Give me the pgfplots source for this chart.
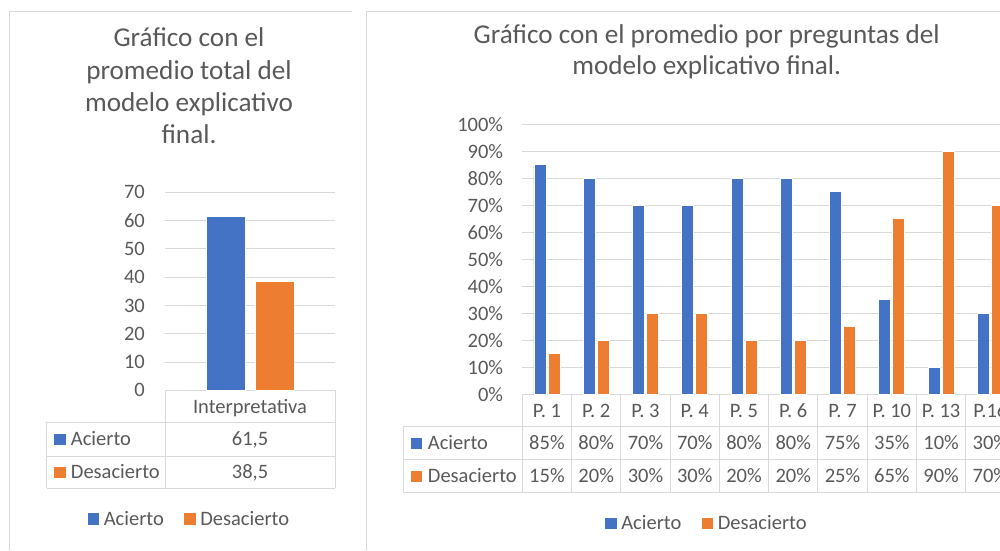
\documentclass[border=0pt]{standalone}
\usepackage{pgfplots}
\pgfplotsset{compat=1.18}
\usepackage{fontspec}
\setmainfont{Carlito}
\definecolor{cblue}{HTML}{4472C4}
\definecolor{corange}{HTML}{ED7D31}
\definecolor{ctext}{HTML}{595959}
\definecolor{cgrid}{HTML}{D9D9D9}
\newcommand{\fs}{\fontsize{20.5}{24}\selectfont}
\newcommand{\ft}{\fontsize{27.2}{32}\selectfont}
\pgfplotsset{
  sqleg/.style={legend image code/.code={\fill[##1, draw=none] (0pt,-5.6pt) rectangle (11.3pt,5.6pt);}},
  common/.style={
    scale only axis, anchor=south west,
    axis line style={draw=none}, major tick length=0pt,
    ymajorgrids, grid style={cgrid, line width=0.9pt},
    tick label style={font=\fs, text=ctext, inner sep=0pt},
    /pgf/number format/assume math mode=true,
    clip=false,
    legend style={draw=none, fill=none, font=\fs, text=ctext, inner sep=0pt,
      nodes={inner sep=0pt}, anchor=center,
      /tikz/every odd column/.append style={column sep=4.7pt},
      /tikz/every even column/.append style={column sep=20.4pt}},
    legend columns=2,
  },
}
\begin{document}
\begin{tikzpicture}[x=1pt,y=1pt]
\useasboundingbox (0,0) rectangle (1000,550);
\clip (0,0) rectangle (1000,550);
% chart frames
\draw[cgrid, line width=1pt] (9,0) -- (9,538) -- (352,538);
\draw[cgrid, line width=1pt] (366,0) -- (366,538) -- (1000,538);
% titles
\begin{scope}[every node/.style={font=\ft, text=ctext, anchor=base, inner sep=0pt}]
\node at (189,503.3) {Gráfico con el};
\node at (189,470.9) {promedio total del};
\node at (189,438.6) {modelo explicativo};
\node at (189,406.4) {final.};
\node at (706.7,506.7) {Gráfico con el promedio por preguntas del};
\node at (706.7,475.0) {modelo explicativo final.};
\end{scope}

% ---------- left chart ----------
\begin{axis}[common,
  at={(165pt,159.7pt)}, width=170pt, height=198pt,
  xmin=-0.5, xmax=0.5, ymin=0, ymax=70,
  ytick={0,10,...,70}, xtick={0}, xticklabels={Interpretativa},
  yticklabel style={anchor=east, xshift=-20pt},
  xticklabel style={anchor=base, yshift=-22.7pt},
  legend style={at={(0.1382,-0.650)}},
]
\addplot[ybar, bar width=39pt, bar shift=-24.6pt, fill=cblue, draw=white, line width=0.75pt, sqleg] coordinates {(0,61.5)};
\addplot[ybar, bar width=39pt, bar shift=24.6pt, fill=corange, draw=white, line width=0.75pt, sqleg] coordinates {(0,38.5)};
\legend{Acierto, Desacierto}
\end{axis}
% left data table
\begin{scope}[cgrid, line width=0.9pt]
\draw (165,159.7) -- (165,61.7);
\draw (335,159.7) -- (335,61.7);
\draw (46.7,128) -- (46.7,61.7);
\draw (46.7,128) -- (335,128);
\draw (46.7,94) -- (335,94);
\draw (46.7,61.7) -- (335,61.7);
\end{scope}
\fill[cblue] (54.3,105.5) rectangle (65.6,116.5);
\fill[corange] (54.3,72.3) rectangle (65.6,83.3);
\begin{scope}[every node/.style={font=\fs, text=ctext, inner sep=0pt}]
\node[anchor=base west] at (70.7,104.4) {Acierto};
\node[anchor=base west] at (70.7,71.2) {Desacierto};
\node[anchor=base] at (250,104.4) {61,5};
\node[anchor=base] at (250,71.2) {38,5};
\end{scope}

% ---------- right chart ----------
\begin{axis}[common,
  at={(522.3pt,155.7pt)}, width=492.7pt, height=270pt,
  xmin=-0.5, xmax=9.5, ymin=0, ymax=100,
  ytick={0,10,...,100}, yticklabel={\pgfmathprintnumber{\tick}\%},
  xtick={0,...,9},
  xticklabels={P. 1,P. 2,P. 3,P. 4,P. 5,P. 6,P. 7,P. 10,P. 13,P.16},
  yticklabel style={anchor=east, xshift=-19pt},
  xticklabel style={anchor=base, yshift=-23.15pt},
  legend style={at={(0.3728,-0.4778)}},
]
\addplot[ybar, bar width=12pt, bar shift=-7pt, fill=cblue, draw=white, line width=0.75pt, sqleg]
  coordinates {(0,85) (1,80) (2,70) (3,70) (4,80) (5,80) (6,75) (7,35) (8,10) (9,30)};
\addplot[ybar, bar width=12pt, bar shift=7pt, fill=corange, draw=white, line width=0.75pt, sqleg]
  coordinates {(0,15) (1,20) (2,30) (3,30) (4,20) (5,20) (6,25) (7,65) (8,90) (9,70)};
\legend{Acierto, Desacierto}
\end{axis}
% right data table
\begin{scope}[cgrid, line width=0.9pt]
\foreach \k in {0,...,10} {\draw ({522.3+49.27*\k},155.7) -- ({522.3+49.27*\k},57.3);}
\draw (403.3,123.3) -- (403.3,57.3);
\draw (403.3,123.3) -- (1015,123.3);
\draw (403.3,90.3) -- (1015,90.3);
\draw (403.3,57.3) -- (1015,57.3);
\end{scope}
\fill[cblue] (410.7,101.3) rectangle (421.9,112.3);
\fill[corange] (410.7,68.3) rectangle (421.9,79.3);
\begin{scope}[every node/.style={font=\fs, text=ctext, inner sep=0pt}]
\node[anchor=base west] at (427.7,100.2) {Acierto};
\node[anchor=base west] at (427.7,67.2) {Desacierto};
\foreach \v [count=\i from 0] in {85,80,70,70,80,80,75,35,10,30}
  {\node[anchor=base] at ({522.3+49.27*(\i+0.5)},100.2) {\v\%};}
\foreach \v [count=\i from 0] in {15,20,30,30,20,20,25,65,90,70}
  {\node[anchor=base] at ({522.3+49.27*(\i+0.5)},67.2) {\v\%};}
\end{scope}
\end{tikzpicture}
\end{document}
